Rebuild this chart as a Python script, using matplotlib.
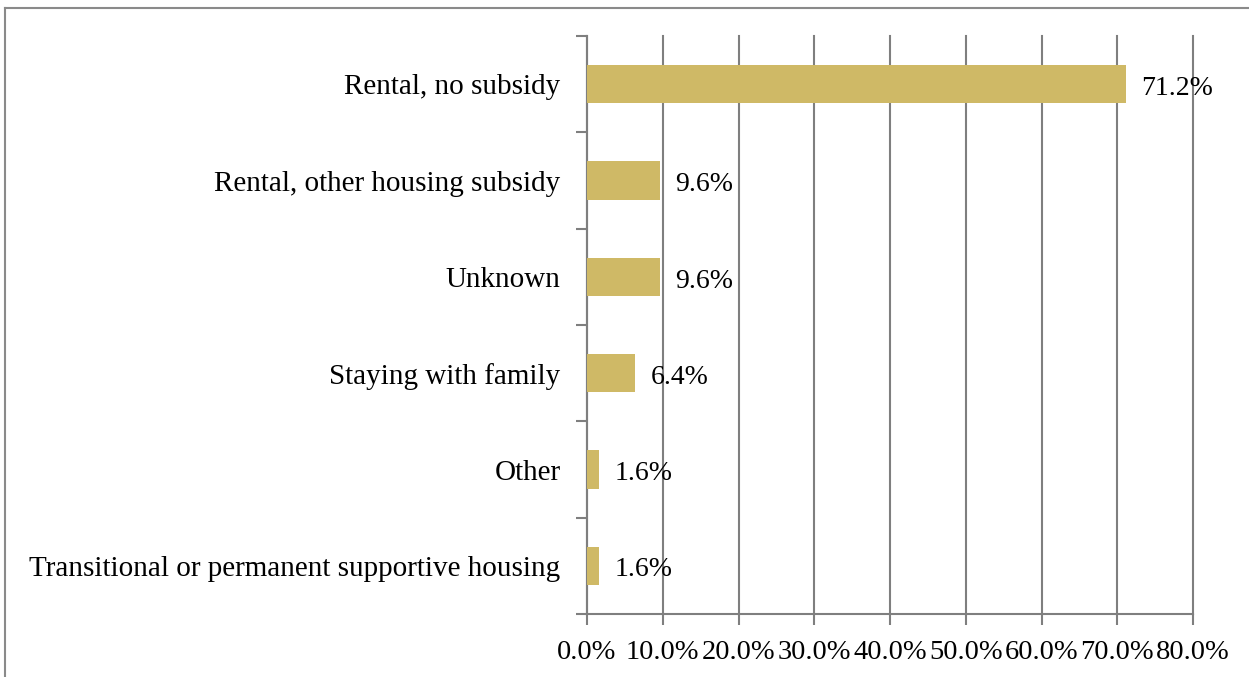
import matplotlib
matplotlib.use("Agg")
import matplotlib.pyplot as plt
from matplotlib.lines import Line2D
from matplotlib.transforms import offset_copy

categories = [
    "Rental, no subsidy",
    "Rental, other housing subsidy",
    "Unknown",
    "Staying with family",
    "Other",
    "Transitional or permanent supportive housing",
]
values = [71.2, 9.6, 9.6, 6.4, 1.6, 1.6]
xticks = [0, 10, 20, 30, 40, 50, 60, 70, 80]
xtick_labels = [f"{t:.1f}%" for t in xticks]

bar_color = "#CFB966"
grid_color = "#7F7F7F"
font = "Liberation Serif"

W, H = 1249, 677
fig = plt.figure(figsize=(W / 100, H / 100), dpi=100)
ax = fig.add_axes([587 / W, 1 - 614 / H, (1193 - 587) / W, (614 - 36) / H])

n = len(categories)
ypos = list(range(n))[::-1]
ax.barh(ypos, values, height=0.4, color=bar_color, zorder=3)

# value labels, nudged slightly below the bar centre
label_tf = offset_copy(ax.transData, fig=fig, x=0, y=-3, units="points")
for y, v in zip(ypos, values):
    ax.text(v + 2.0, y, f"{v:.1f}%", va="center", ha="left", transform=label_tf,
            fontsize=20, family=font, color="black", zorder=4)

ax.set_xlim(0, 80)
ax.set_ylim(-0.5, n - 0.5)
ax.set_xticks(xticks)
ax.set_xticklabels(xtick_labels, fontsize=20.5, family=font)

# category labels centred between boundary ticks
ax.set_yticks([i - 0.5 for i in range(n + 1)])
ax.set_yticklabels([])
ax.set_yticks(ypos, minor=True)
ax.set_yticklabels(categories, minor=True, fontsize=21, family=font)
ax.tick_params(axis="y", which="minor", length=0, pad=19)
ax.tick_params(axis="y", which="major", length=8, width=1.5, color=grid_color)
ax.tick_params(axis="x", length=8, width=1.5, color=grid_color, pad=11)

ax.grid(axis="x", color=grid_color, linewidth=1.5, zorder=0)
for gl in ax.get_xgridlines():
    gl.set_clip_on(False)
for s in ("top", "right"):
    ax.spines[s].set_visible(False)
for s in ("left", "bottom"):
    ax.spines[s].set_color(grid_color)
    ax.spines[s].set_linewidth(1.5)

# outer frame (top and left edges)
fig.add_artist(Line2D([4.5 / W, 1], [1 - 7.5 / H, 1 - 7.5 / H], color="#8A8A8A", lw=1.5))
fig.add_artist(Line2D([4.5 / W, 4.5 / W], [0, 1 - 7.5 / H], color="#8A8A8A", lw=1.5))

fig.savefig("out.png", dpi=100, facecolor="white")
